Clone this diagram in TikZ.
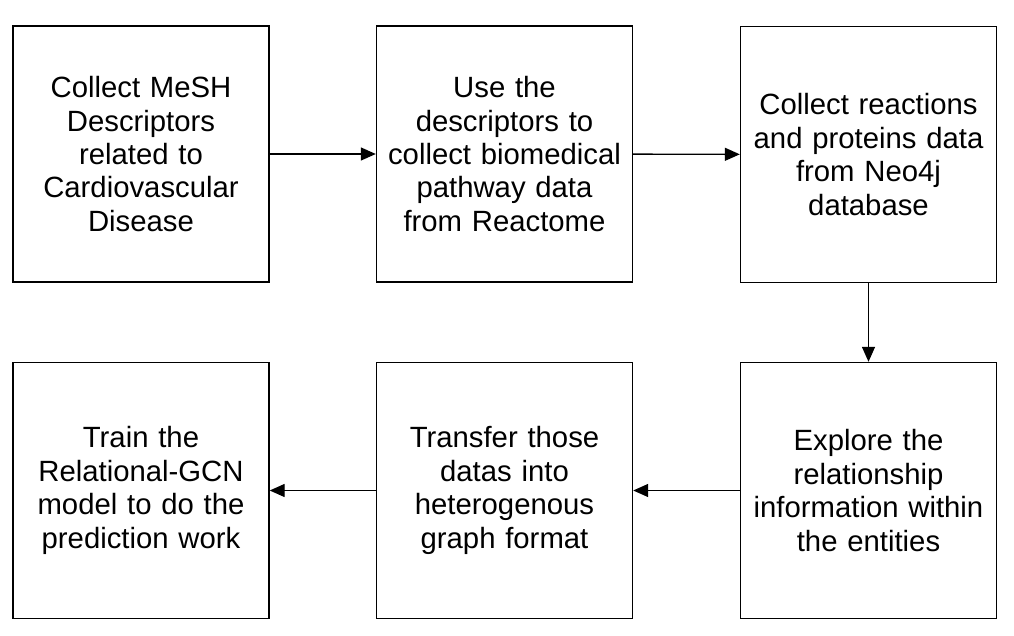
\documentclass[tikz,border=0pt]{standalone}
\usepackage{fontspec}
\setmainfont{Liberation Sans}
\usetikzlibrary{arrows.meta}
\begin{document}
\begin{tikzpicture}[x=1pt,y=-1pt,
  stepbox/.style={draw=black,line width=1.4pt,minimum width=256pt,minimum height=256pt,inner sep=0pt,
    align=center,font=\fontsize{29.3}{33.4}\selectfont,text width=252pt},
  conn/.style={line width=1.4pt,-{Triangle[length=15pt,width=13pt]}}]
\useasboundingbox[fill=white] (0,0) rectangle (1014,636);
\node[stepbox] (b1) at (141,154) {Collect MeSH\\Descriptors\\related to\\Cardiovascular\\Disease};
\node[stepbox] (b2) at (504.5,154) {Use the\\descriptors to\\collect biomedical\\pathway data\\from Reactome};
\node[stepbox] (b3) at (868.5,154.5) {Collect reactions\\and proteins data\\from Neo4j\\database};
\node[stepbox] (b4) at (141,490.5) {Train the\\Relational-GCN\\model to do the\\prediction work};
\node[stepbox] (b5) at (504.5,490.5) {Transfer those\\datas into\\heterogenous\\graph format};
\node[stepbox] (b6) at (868.5,490.5) {Explore the\\relationship\\information within\\the entities};
\draw[conn] (b1) -- (b2);
\draw[conn] (b2) -- (b3);
\draw[conn] (b3) -- (b6);
\draw[conn] (b6) -- (b5);
\draw[conn] (b5) -- (b4);
\end{tikzpicture}
\end{document}
